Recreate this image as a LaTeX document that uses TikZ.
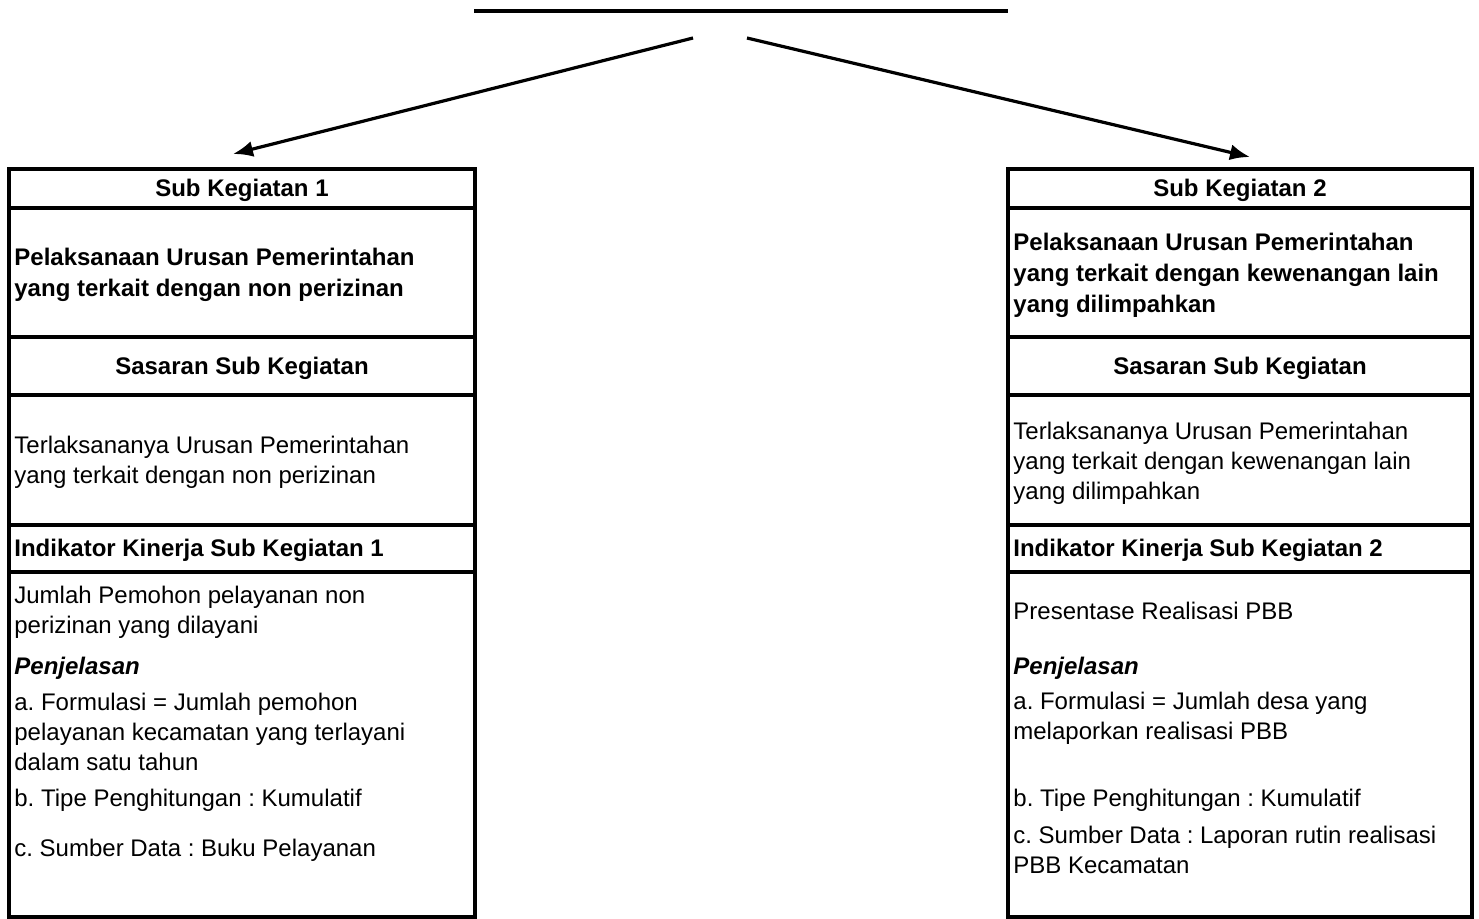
\documentclass[tikz,border=0pt]{standalone}
\usepackage{fontspec}
\setmainfont{Liberation Sans}
\usetikzlibrary{arrows.meta}
\frenchspacing

\tikzset{
  rahmen/.style={line width=1.6pt},
  panah/.style={line width=1.6pt, -{Latex[length=10pt,width=8pt]}},
  kopf/.style={inner sep=0pt, yshift=-1pt, font=\fontsize{12}{15}\selectfont\bfseries},
  isi/.style={inner sep=0pt, yshift=-1pt, anchor=west, align=left, font=\fontsize{12}{15}\selectfont},
  tebal/.style={isi, font=\fontsize{12}{15.5}\selectfont\bfseries},
  miring/.style={isi, font=\fontsize{12}{15}\selectfont\bfseries\itshape}
}

\begin{document}
\begin{tikzpicture}[x=0.5pt, y=-0.5pt]
	\useasboundingbox (0,0) rectangle (1479,918);
	% Obere Linie und Pfeile
	\coordinate (atasA) at (474,11);
	\coordinate (atasB) at (1008,11);
	\draw [rahmen] (atasA) -- (atasB);
	\coordinate (pangkal1) at (693,38);
	\coordinate (pangkal2) at (747,38);
	\coordinate (ujung1) at (233,154);
	\coordinate (ujung2) at (1250,157);
	\draw [panah] (pangkal1) -- (ujung1);
	\draw [panah] (pangkal2) -- (ujung2);
	% Linker Kasten
	\draw [rahmen] (9, 169) rectangle (475, 917);
	\foreach \y in {208, 337, 395, 525, 572}
		\draw [rahmen] (9, \y) -- (475, \y);
	\node [kopf] (sub1) at (242, 188) {Sub Kegiatan 1};
	\node [tebal] (nama1) at (14, 273) {Pelaksanaan Urusan Pemerintahan\\yang terkait dengan non perizinan};
	\node [kopf] (sas1) at (242, 366) {Sasaran Sub Kegiatan};
	\node [isi] (isisas1) at (14, 460) {Terlaksananya Urusan Pemerintahan\\yang terkait dengan non perizinan};
	\node [tebal] (ind1) at (14, 548) {Indikator Kinerja Sub Kegiatan 1};
	\node [isi] (isiind1) at (14, 610) {Jumlah Pemohon pelayanan non\\perizinan yang dilayani};
	\node [miring] (jel1) at (14, 666) {Penjelasan};
	\node [isi] (a1) at (14, 730) {a. Formulasi = Jumlah pemohon\\pelayanan kecamatan yang terlayani\\dalam satu tahun};
	\node [isi] (b1) at (14, 798) {b. Tipe Penghitungan : Kumulatif};
	\node [isi] (c1) at (14, 848) {c. Sumber Data : Buku Pelayanan};
	% Rechter Kasten
	\draw [rahmen] (1008, 169) rectangle (1472, 917);
	\foreach \y in {208, 337, 395, 525, 572}
		\draw [rahmen] (1008, \y) -- (1472, \y);
	\node [kopf] (sub2) at (1240, 188) {Sub Kegiatan 2};
	\node [tebal] (nama2) at (1013, 273) {Pelaksanaan Urusan Pemerintahan\\yang terkait dengan kewenangan lain\\yang dilimpahkan};
	\node [kopf] (sas2) at (1240, 366) {Sasaran Sub Kegiatan};
	\node [isi] (isisas2) at (1013, 461) {Terlaksananya Urusan Pemerintahan\\yang terkait dengan kewenangan lain\\yang dilimpahkan};
	\node [tebal] (ind2) at (1013, 548) {Indikator Kinerja Sub Kegiatan 2};
	\node [isi] (isiind2) at (1013, 609) {Presentase Realisasi PBB};
	\node [miring] (jel2) at (1013, 666) {Penjelasan};
	\node [isi] (a2) at (1013, 716) {a. Formulasi = Jumlah desa yang\\melaporkan realisasi PBB};
	\node [isi] (b2) at (1013, 798) {b. Tipe Penghitungan : Kumulatif};
	\node [isi] (c2) at (1013, 848) {c. Sumber Data : Laporan rutin realisasi\\PBB Kecamatan};
\end{tikzpicture}
\end{document}
